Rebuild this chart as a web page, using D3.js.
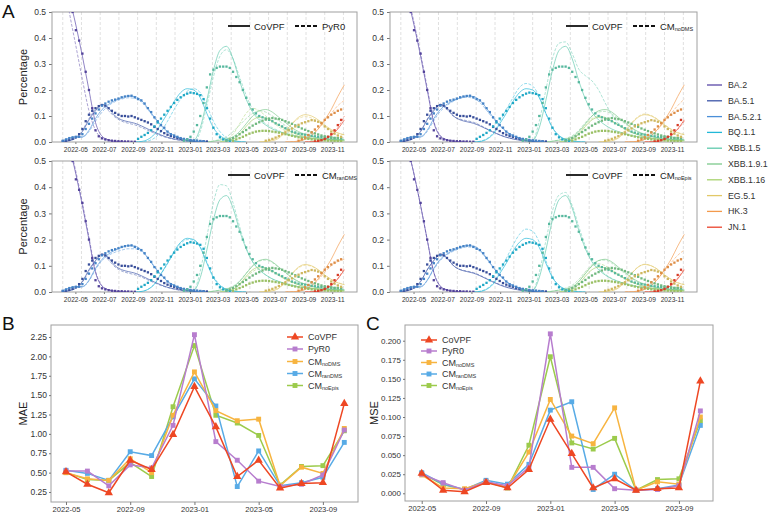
<!DOCTYPE html>
<html><head><meta charset="utf-8">
<script src="https://cdn.jsdelivr.net/npm/d3@7"></script>
<style>body{margin:0;background:#fff} svg{font-family:"Liberation Sans",Arial,sans-serif}</style>
</head><body><svg id="c" width="769" height="514"></svg>
<script>
// ---------------- DATA ----------------
const variants = ["BA.2","BA.5.1","BA.5.2.1","BQ.1.1","XBB.1.5","XBB.1.9.1","XBB.1.16","EG.5.1","HK.3","JN.1"];
const variantColors = ["#5a48a8","#3d55a8","#4b8fd8","#22b8d8","#5fc9ad","#7cca8c","#a8d26e","#e2c868","#f39a4c","#ea432c"];

// observed frequencies, weekly from 2022-04-04 (start = week index)
const obsStart = [3,0,0,23,37,50,52,62,72,77];
const obsBA2 = [0.5,0.43,0.39,0.34,0.27,0.2,0.13,0.045,0.022,0.014,0.01,0.007,0.005,0.004,0.003,0.003,0.002,0.002,0.001,0.001];
const obsBA51 = [0.003,0.005,0.008,0.012,0.018,0.03,0.05,0.08,0.105,0.12,0.13,0.138,0.142,0.14,0.13,0.12,0.112,0.105,0.1,0.1,0.098,0.1,0.095,0.09,0.085,0.08,0.075,0.068,0.058,0.05,0.042,0.034,0.028,0.023,0.02,0.016,0.012,0.01,0.008,0.006,0.005,0.004,0.003,0.003,0.002];
const obsBA521 = [0.005,0.01,0.015,0.018,0.02,0.02,0.03,0.05,0.07,0.09,0.11,0.125,0.14,0.148,0.155,0.16,0.163,0.167,0.172,0.175,0.177,0.178,0.172,0.165,0.16,0.148,0.13,0.115,0.095,0.08,0.065,0.055,0.04,0.03,0.025,0.02,0.015,0.012,0.01,0.008,0.006,0.005,0.004,0.003];
const obsBQ11 = [0.012,0.02,0.027,0.035,0.045,0.06,0.075,0.09,0.105,0.12,0.135,0.15,0.162,0.172,0.18,0.186,0.19,0.188,0.185,0.18,0.165,0.13,0.09,0.055,0.03,0.018,0.01,0.006,0.004];
const obsXBB15 = [0.005,0.01,0.02,0.04,0.065,0.1,0.15,0.21,0.26,0.278,0.285,0.29,0.29,0.29,0.285,0.27,0.25,0.23,0.2,0.17,0.145,0.125,0.11,0.1,0.095,0.09,0.085,0.08,0.072,0.066,0.06,0.053,0.047,0.04,0.036,0.032,0.03,0.028,0.026,0.024,0.022,0.02,0.019,0.018,0.017,0.016,0.015,0.015,0.014];
const obsXBB191 = [0.005,0.01,0.015,0.022,0.03,0.038,0.046,0.055,0.063,0.07,0.076,0.082,0.086,0.09,0.092,0.09,0.088,0.085,0.08,0.075,0.07,0.064,0.058,0.052,0.047,0.042,0.037,0.033,0.029,0.025,0.022,0.02,0.018,0.016,0.015,0.014];
const obsXBB116 = [0.005,0.01,0.015,0.02,0.026,0.032,0.036,0.04,0.042,0.043,0.043,0.042,0.04,0.038,0.036,0.033,0.03,0.027,0.024,0.021,0.018,0.016,0.014,0.012,0.01,0.009,0.008,0.007,0.006,0.005,0.005,0.004,0.004,0.004];
const obsEG51 = [0.005,0.008,0.012,0.017,0.023,0.03,0.037,0.045,0.052,0.06,0.066,0.072,0.076,0.08,0.084,0.082,0.078,0.074,0.06,0.05,0.04,0.032,0.025,0.02];
const obsHK3 = [0.005,0.01,0.018,0.027,0.037,0.048,0.06,0.072,0.085,0.095,0.105,0.112,0.12,0.125];
const obsJN1 = [0.002,0.004,0.007,0.012,0.02,0.03,0.045,0.065,0.085];
const observed = [obsBA2,obsBA51,obsBA521,obsBQ11,obsXBB15,obsXBB191,obsXBB116,obsEG51,obsHK3,obsJN1];

// fitted / predicted curves, every 2 weeks from 2022-04-04 (start = 2-week index)
const lineStart = [0,0,0,11,19,22,24,30,34,37];
const fitCoVPF = [
 [0.7,0.56,0.45,0.33,0.2,0.075,0.022,0.008,0.003,0.001,0],
 [0.002,0.005,0.015,0.04,0.085,0.12,0.145,0.13,0.1,0.085,0.078,0.072,0.062,0.05,0.038,0.027,0.018,0.012,0.007,0.004,0.002,0],
 [0.005,0.015,0.02,0.02,0.045,0.09,0.125,0.145,0.16,0.17,0.177,0.175,0.16,0.13,0.095,0.065,0.04,0.025,0.014,0.008,0.004,0.002,0],
 [0,0.002,0.01,0.03,0.07,0.11,0.155,0.19,0.205,0.2,0.17,0.11,0.055,0.025,0.01,0.004,0.001,0],
 [0,0.005,0.055,0.16,0.275,0.352,0.368,0.32,0.235,0.165,0.115,0.085,0.065,0.05,0.04,0.032,0.025,0.02,0.016,0.013,0.011,0.01,0.009,0.008,0.008],
 [0,0.003,0.007,0.012,0.02,0.04,0.07,0.1,0.12,0.125,0.115,0.095,0.075,0.055,0.04,0.03,0.022,0.016,0.012,0.01,0.008,0.007],
 [0,0.004,0.01,0.03,0.06,0.085,0.095,0.092,0.08,0.065,0.05,0.038,0.028,0.02,0.015,0.011,0.008,0.006,0.005,0.004],
 [0,0.002,0.005,0.015,0.04,0.07,0.095,0.105,0.1,0.085,0.065,0.048,0.035,0.028],
 [0,0.001,0.003,0.01,0.025,0.05,0.085,0.125,0.175,0.22],
 [0,0.001,0.003,0.01,0.025,0.05,0.085]
];
const predPyR0 = [
 [0.66,0.5,0.37,0.24,0.12,0.045,0.015,0.005,0.002,0],
 [0.002,0.006,0.018,0.045,0.09,0.125,0.14,0.12,0.095,0.08,0.072,0.066,0.056,0.045,0.034,0.024,0.016,0.01,0.006,0.003,0.001,0],
 [0.004,0.012,0.018,0.018,0.04,0.08,0.115,0.14,0.155,0.165,0.17,0.168,0.155,0.125,0.09,0.06,0.038,0.022,0.012,0.006,0.003,0.001,0],
 [0,0,0.004,0.015,0.04,0.08,0.125,0.165,0.195,0.205,0.19,0.14,0.08,0.04,0.017,0.007,0.002,0],
 [0,0,0.04,0.14,0.25,0.33,0.355,0.32,0.25,0.18,0.125,0.09,0.07,0.055,0.043,0.034,0.027,0.022,0.018,0.015,0.012,0.011,0.01,0.009,0.009],
 [0,0.004,0.01,0.02,0.04,0.065,0.09,0.11,0.12,0.115,0.1,0.082,0.063,0.047,0.035,0.026,0.02,0.015,0.012,0.01,0.009,0.008],
 [0,0.01,0.03,0.07,0.11,0.13,0.12,0.1,0.078,0.058,0.043,0.032,0.024,0.018,0.014,0.011,0.009,0.007,0.006,0.005],
 [0,0.003,0.008,0.02,0.045,0.07,0.09,0.098,0.092,0.078,0.06,0.045,0.034,0.027],
 [0,0.001,0.004,0.012,0.027,0.05,0.08,0.11,0.14,0.16],
 [0,0.001,0.004,0.012,0.028,0.055,0.1]
];
const predCMnoDMS = [
 [0.72,0.58,0.46,0.34,0.21,0.08,0.025,0.009,0.003,0.001,0],
 [0.002,0.005,0.016,0.042,0.088,0.125,0.142,0.125,0.098,0.088,0.082,0.076,0.065,0.052,0.04,0.028,0.019,0.012,0.007,0.004,0.002,0],
 [0.004,0.013,0.019,0.019,0.04,0.082,0.118,0.14,0.157,0.168,0.172,0.168,0.152,0.122,0.09,0.062,0.04,0.024,0.013,0.007,0.003,0.001,0],
 [0,0.003,0.012,0.035,0.078,0.125,0.17,0.21,0.225,0.215,0.175,0.11,0.055,0.024,0.01,0.004,0.001,0],
 [0,0.006,0.08,0.2,0.32,0.38,0.385,0.34,0.28,0.255,0.235,0.2,0.15,0.105,0.072,0.05,0.036,0.027,0.02,0.016,0.013,0.011,0.01,0.009,0.009],
 [0,0.003,0.008,0.014,0.024,0.045,0.075,0.1,0.115,0.118,0.108,0.09,0.07,0.052,0.038,0.028,0.021,0.016,0.012,0.01,0.008,0.007],
 [0,0.004,0.012,0.035,0.065,0.09,0.1,0.095,0.082,0.066,0.05,0.038,0.028,0.021,0.016,0.012,0.009,0.007,0.006,0.005],
 [0,0.002,0.006,0.018,0.045,0.075,0.098,0.108,0.102,0.087,0.068,0.05,0.037,0.03],
 [0,0.001,0.003,0.01,0.024,0.048,0.08,0.11,0.14,0.165],
 [0,0.001,0.003,0.01,0.024,0.048,0.08]
];
const predCMranDMS = [
 [0.7,0.57,0.46,0.34,0.21,0.08,0.024,0.009,0.003,0.001,0],
 [0.002,0.005,0.014,0.038,0.08,0.118,0.14,0.122,0.095,0.08,0.072,0.066,0.057,0.046,0.035,0.025,0.017,0.011,0.006,0.003,0.001,0],
 [0.004,0.014,0.02,0.02,0.042,0.085,0.12,0.14,0.152,0.16,0.165,0.165,0.155,0.13,0.098,0.068,0.043,0.026,0.015,0.008,0.004,0.002,0],
 [0,0.002,0.01,0.03,0.068,0.108,0.15,0.185,0.2,0.198,0.172,0.115,0.06,0.027,0.011,0.004,0.001,0],
 [0,0.006,0.08,0.21,0.34,0.41,0.405,0.34,0.25,0.17,0.115,0.085,0.065,0.05,0.04,0.032,0.025,0.02,0.016,0.013,0.011,0.01,0.009,0.008,0.008],
 [0,0.003,0.007,0.013,0.022,0.042,0.072,0.1,0.118,0.122,0.112,0.093,0.073,0.054,0.04,0.03,0.022,0.016,0.012,0.01,0.008,0.007],
 [0,0.004,0.01,0.028,0.055,0.078,0.088,0.086,0.076,0.062,0.048,0.036,0.027,0.02,0.015,0.011,0.008,0.006,0.005,0.004],
 [0,0.002,0.005,0.014,0.038,0.068,0.092,0.102,0.098,0.084,0.065,0.048,0.036,0.029],
 [0,0.001,0.003,0.009,0.022,0.045,0.075,0.1,0.115,0.125],
 [0,0.001,0.003,0.01,0.026,0.052,0.09]
];
const predCMnoEpis = [
 [0.71,0.56,0.45,0.33,0.2,0.075,0.022,0.008,0.003,0.001,0],
 [0.002,0.005,0.015,0.04,0.084,0.12,0.143,0.128,0.1,0.086,0.08,0.074,0.064,0.052,0.04,0.029,0.02,0.013,0.008,0.004,0.002,0],
 [0.004,0.013,0.019,0.019,0.043,0.086,0.12,0.142,0.156,0.166,0.172,0.17,0.156,0.127,0.093,0.064,0.04,0.024,0.013,0.007,0.003,0.001,0],
 [0,0.003,0.012,0.035,0.078,0.128,0.178,0.22,0.24,0.232,0.19,0.12,0.058,0.025,0.01,0.004,0.001,0],
 [0,0.005,0.075,0.195,0.31,0.37,0.38,0.33,0.25,0.175,0.12,0.09,0.068,0.052,0.041,0.033,0.026,0.021,0.017,0.014,0.012,0.011,0.01,0.009,0.009],
 [0,0.003,0.008,0.015,0.026,0.048,0.078,0.104,0.12,0.122,0.11,0.09,0.07,0.052,0.038,0.028,0.021,0.016,0.012,0.01,0.008,0.007],
 [0,0.005,0.014,0.04,0.072,0.098,0.108,0.1,0.085,0.068,0.052,0.039,0.029,0.021,0.016,0.012,0.009,0.007,0.006,0.005],
 [0,0.002,0.006,0.017,0.042,0.072,0.096,0.106,0.1,0.086,0.066,0.049,0.036,0.029],
 [0,0.001,0.004,0.011,0.026,0.05,0.082,0.112,0.14,0.16],
 [0,0.001,0.003,0.011,0.027,0.053,0.09]
];
const modelNames = ["PyR0","CM","CM","CM"];
const modelSubs = ["","noDMS","ranDMS","noEpis"];
const modelPreds = [predPyR0,predCMnoDMS,predCMranDMS,predCMnoEpis];
const xTickLabelsA = ["2022-05","2022-07","2022-09","2022-11","2023-01","2023-03","2023-05","2023-07","2023-09","2023-11"];
const yTicksA = [0,0.1,0.2,0.3,0.4,0.5];

// evaluation metrics over 14 windows
const metricNames = ["CoVPF","PyR0","CM","CM","CM"];
const metricSubs = ["","","noDMS","ranDMS","noEpis"];
const metricColors = ["#ee4723","#b77dce","#f7b440","#58abe6","#9ccb4c"];
const metricXLabels = ["2022-05","","","2022-09","","","2023-01","","","2023-05","","","2023-09",""];
const maeCoVPF = [0.51,0.35,0.24,0.66,0.54,0.99,1.61,1.09,0.45,0.66,0.30,0.36,0.37,1.39];
const maePyR0 = [0.52,0.52,0.33,0.60,0.56,1.11,2.28,0.90,0.66,0.39,0.32,0.35,0.47,1.05];
const maeCMnoDMS = [0.50,0.42,0.40,0.68,0.50,1.24,1.80,1.30,1.17,1.19,0.33,0.57,0.49,1.07];
const maeCMranDMS = [0.53,0.49,0.40,0.77,0.72,1.22,1.71,1.36,0.32,0.78,0.33,0.37,0.44,0.89];
const maeCMnoEpis = [0.50,0.41,0.40,0.63,0.45,1.35,2.14,1.24,1.14,0.98,0.34,0.58,0.59,1.04];
const mseCoVPF = [0.026,0.004,0.002,0.014,0.007,0.031,0.097,0.052,0.007,0.019,0.004,0.006,0.007,0.147];
const msePyR0 = [0.025,0.014,0.004,0.015,0.010,0.034,0.209,0.034,0.034,0.006,0.004,0.005,0.010,0.108];
const mseCMnoDMS = [0.024,0.007,0.006,0.015,0.008,0.054,0.123,0.075,0.065,0.112,0.004,0.015,0.012,0.100];
const mseCMranDMS = [0.027,0.012,0.005,0.017,0.012,0.038,0.109,0.120,0.005,0.025,0.004,0.006,0.011,0.089];
const mseCMnoEpis = [0.026,0.011,0.005,0.015,0.007,0.063,0.179,0.066,0.058,0.072,0.004,0.018,0.019,0.095];
const maeTicks = [0.25,0.5,0.75,1.0,1.25,1.5,1.75,2.0,2.25];
const mseTicks = [0,0.025,0.05,0.075,0.1,0.125,0.15,0.175,0.2];

// ---------------- DRAW ----------------
const svg = d3.select("#c");
const parse = d3.utcParse("%Y-%m-%d");
const origin = parse("2022-04-04");
const DAY = 864e5;
const dateAt = days => new Date(origin.getTime() + days*DAY);

const panels = [
  {x0:52, x1:357, y0:12, y1:142, left:true},
  {x0:390,x1:697, y0:12, y1:142, left:false},
  {x0:52, x1:357, y0:161,y1:292, left:true},
  {x0:390,x1:697, y0:161,y1:292, left:false}
];
const gridDates = d3.range(0,16).map(i => dateAt(i*40));
const tickDates = xTickLabelsA.map(s => parse(s + "-01"));

panels.forEach((p, pi) => {
  const x = d3.scaleUtc().domain([parse("2022-03-12"), parse("2023-12-24")]).range([p.x0, p.x1]);
  const y = d3.scaleLinear().domain([0,0.5]).range([p.y1, p.y0]);
  const g = svg.append("g");
  svg.append("clipPath").attr("id","clip"+pi).append("rect")
     .attr("x",p.x0).attr("y",p.y0).attr("width",p.x1-p.x0).attr("height",p.y1-p.y0);
  g.selectAll(".grid").data(gridDates).join("line")
    .attr("x1",d=>x(d)).attr("x2",d=>x(d)).attr("y1",p.y0).attr("y2",p.y1)
    .attr("stroke","#d8d8d8").attr("stroke-width",0.8).attr("stroke-dasharray","3,2");
  const xa = g.append("g").attr("transform",`translate(0,${p.y1})`)
    .call(d3.axisBottom(x).tickValues(tickDates).tickFormat(d3.utcFormat("%Y-%m")).tickSize(2).tickPadding(3));
  xa.select(".domain").remove();
  xa.selectAll("line").attr("stroke","#777");
  xa.selectAll("text").attr("font-size","6.6px").attr("fill","#333");
  const ya = g.append("g").attr("transform",`translate(${p.x0},0)`)
    .call(d3.axisLeft(y).tickValues(yTicksA).tickFormat(d3.format(".1f")).tickSize(3).tickPadding(3));
  ya.select(".domain").remove();
  ya.selectAll("line").attr("stroke","#777");
  ya.selectAll("text").attr("font-size","8.5px").attr("fill","#333");
  g.append("rect").attr("x",p.x0).attr("y",p.y0).attr("width",p.x1-p.x0).attr("height",p.y1-p.y0)
    .attr("fill","none").attr("stroke","#a0a0a0").attr("stroke-width",1);

  const plot = g.append("g").attr("clip-path",`url(#clip${pi})`);
  const line = d3.line().x(d=>x(d.d)).y(d=>y(d.v)).curve(d3.curveMonotoneX);
  const toLine = (arr, vi) => arr.map((v,i)=>({d:dateAt((lineStart[vi]+i)*14), v}));
  const preds = modelPreds[pi];
  preds.forEach((arr, vi) => {
    plot.append("path").attr("d", line(toLine(arr, vi))).attr("fill","none")
      .attr("stroke", d3.interpolateRgb(variantColors[vi], "#fff")(0.25))
      .attr("stroke-width",0.9).attr("stroke-dasharray","3,1.5").attr("opacity",0.75);
  });
  fitCoVPF.forEach((arr, vi) => {
    plot.append("path").attr("d", line(toLine(arr, vi))).attr("fill","none")
      .attr("stroke", variantColors[vi]).attr("stroke-width",0.9).attr("opacity",0.75);
  });
  observed.forEach((arr, vi) => {
    plot.selectAll(null).data(arr.map((v,i)=>({d:dateAt((obsStart[vi]+i)*7), v}))).join("rect")
      .attr("x",d=>x(d.d)-1.15).attr("y",d=>y(d.v)-1.15).attr("width",2.3).attr("height",2.3)
      .attr("fill", d3.color(variantColors[vi]).darker(0.25));
  });
  // legend
  const ly = p.y0 + 14;
  g.append("line").attr("x1",p.x0+176).attr("x2",p.x0+198).attr("y1",ly).attr("y2",ly).attr("stroke","#111").attr("stroke-width",1.8);
  g.append("text").attr("x",p.x0+202).attr("y",ly+3.5).attr("font-size","9.5px").attr("fill","#222").text("CoVPF");
  g.append("line").attr("x1",p.x0+243).attr("x2",p.x0+266).attr("y1",ly).attr("y2",ly).attr("stroke","#111").attr("stroke-width",1.8).attr("stroke-dasharray","4,2");
  const mt = g.append("text").attr("x",p.x0+270).attr("y",ly+3.5).attr("font-size","9.5px").attr("fill","#222").text(modelNames[pi]);
  if (modelSubs[pi]) mt.append("tspan").attr("font-size","5.5px").attr("dy",1).text(modelSubs[pi]);
  if (p.left) {
    svg.append("text").attr("transform",`translate(27,${(p.y0+p.y1)/2}) rotate(-90)`)
      .attr("text-anchor","middle").attr("font-size","11px").attr("fill","#222").text("Percentage");
  }
});

// variant legend
variants.forEach((v,i) => {
  const yy = 85 + i*15.8;
  svg.append("line").attr("x1",707).attr("x2",722).attr("y1",yy).attr("y2",yy).attr("stroke",variantColors[i]).attr("stroke-width",1.3);
  svg.append("text").attr("x",728).attr("y",yy+3).attr("font-size","8.8px").attr("fill","#333").text(v);
});

// panel letters
[["A",2,18],["B",2,330],["C",366,330]].forEach(([t,xx,yy]) =>
  svg.append("text").attr("x",xx).attr("y",yy).attr("font-size","19px").attr("fill","#111").text(t));

function metricPanel(cfg) {
  const x = d3.scaleLinear().domain(cfg.xd).range([cfg.x0, cfg.x1]);
  const y = d3.scaleLinear().domain(cfg.yd).range([cfg.y1, cfg.y0]);
  const g = svg.append("g");
  g.append("rect").attr("x",cfg.x0).attr("y",cfg.y0).attr("width",cfg.x1-cfg.x0).attr("height",cfg.y1-cfg.y0)
    .attr("fill","none").attr("stroke","#a0a0a0");
  const xa = g.append("g").attr("transform",`translate(0,${cfg.y1})`)
    .call(d3.axisBottom(x).tickValues(d3.range(0,14).filter(i=>metricXLabels[i])).tickFormat(i=>metricXLabels[i]).tickSize(3).tickPadding(2));
  xa.select(".domain").remove(); xa.selectAll("line").attr("stroke","#777");
  xa.selectAll("text").attr("font-size","7.6px").attr("fill","#333");
  const ya = g.append("g").attr("transform",`translate(${cfg.x0},0)`)
    .call(d3.axisLeft(y).tickValues(cfg.ticks).tickFormat(d3.format(cfg.fmt)).tickSize(2).tickPadding(2));
  ya.select(".domain").remove(); ya.selectAll("line").attr("stroke","#777");
  ya.selectAll("text").attr("font-size",cfg.tfs).attr("fill","#333");
  svg.append("text").attr("transform",`translate(${cfg.lx},${(cfg.y0+cfg.y1)/2}) rotate(-90)`)
    .attr("text-anchor","middle").attr("font-size","11px").attr("fill","#222").text(cfg.label);
  const line = d3.line().x((d,i)=>x(i)).y(d=>y(d));
  const order = [4,3,2,1,0];
  order.forEach(si => {
    const vals = cfg.series[si];
    g.append("path").attr("d", line(vals)).attr("fill","none").attr("stroke",metricColors[si]).attr("stroke-width",1.5);
    const sym = d3.symbol().type(si===0 ? d3.symbolTriangle : d3.symbolSquare).size(si===0 ? 30 : 24);
    g.selectAll(null).data(vals).join("path").attr("d",sym)
      .attr("transform",(d,i)=>`translate(${x(i)},${y(d)})`).attr("fill",metricColors[si]);
  });
  // legend
  metricNames.forEach((n,i) => {
    const yy = cfg.legY[i];
    g.append("line").attr("x1",cfg.legX-8).attr("x2",cfg.legX+8).attr("y1",yy).attr("y2",yy).attr("stroke",metricColors[i]).attr("stroke-width",1.5);
    const sym = d3.symbol().type(i===0 ? d3.symbolTriangle : d3.symbolSquare).size(i===0 ? 30 : 24);
    g.append("path").attr("d",sym).attr("transform",`translate(${cfg.legX},${yy})`).attr("fill",metricColors[i]);
    const t = g.append("text").attr("x",cfg.legX+13).attr("y",yy+3.3).attr("font-size","9px").attr("fill","#333").text(n);
    if (metricSubs[i]) t.append("tspan").attr("font-size","5.5px").attr("dy",0.8).text(metricSubs[i]);
  });
}

metricPanel({x0:51,x1:358,y0:325,y1:502,xd:[-0.70,13.64],yd:[0.121,2.405],ticks:maeTicks,fmt:".2f",tfs:"8.5px",
  label:"MAE",lx:27,series:[maeCoVPF,maePyR0,maeCMnoDMS,maeCMranDMS,maeCMnoEpis],
  legX:295,legY:[337,349,361.5,373.5,385.5]});
metricPanel({x0:405,x1:713,y0:325,y1:501,xd:[-0.78,13.59],yd:[-0.0101,0.2206],ticks:mseTicks,fmt:".3f",tfs:"8px",
  label:"MSE",lx:378,series:[mseCoVPF,msePyR0,mseCMnoDMS,mseCMranDMS,mseCMnoEpis],
  legX:429,legY:[340,351,362.5,374,385.5]});
</script></body></html>
